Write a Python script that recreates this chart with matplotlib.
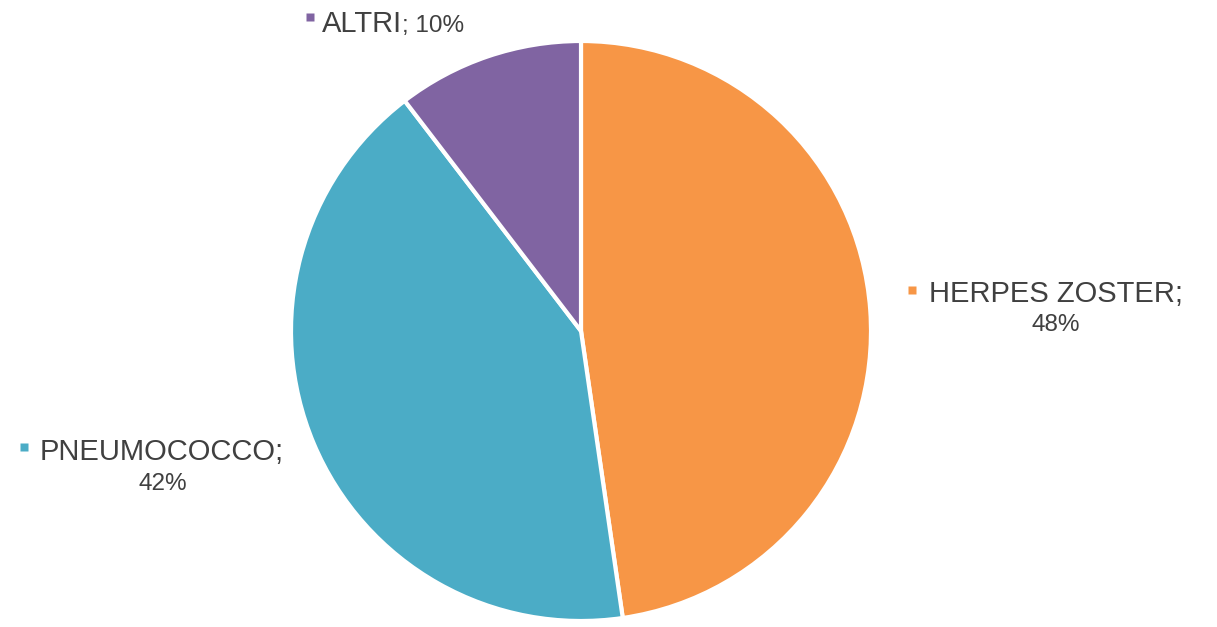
import matplotlib.pyplot as plt

plt.rcParams['font.family'] = ['Liberation Sans', 'DejaVu Sans']

labels = ["HERPES ZOSTER", "PNEUMOCOCCO", "ALTRI"]
values = [47.7, 41.9, 10.4]
colors = ['#F79646', '#4BACC6', '#8064A2']
text_color = '#404040'

W, H = 1217, 627
fig = plt.figure(figsize=(W / 100, H / 100), dpi=100)

# pie axes, y up
pax = fig.add_axes([0, 0, 1, 1])
pax.pie(values, colors=colors, startangle=90, counterclock=False,
        center=(581, H - 331), radius=290, frame=True,
        wedgeprops=dict(edgecolor='white', linewidth=3))
pax.set_xlim(0, W)
pax.set_ylim(0, H)
pax.axis('off')

# label axes, pixel coords from the top
ax = fig.add_axes([0, 0, 1, 1])
ax.set_xlim(0, W)
ax.set_ylim(H, 0)
ax.axis('off')

big = 21
small = 17.5
ms = 5.5

# HERPES ZOSTER
ax.plot(912, 290, marker='s', ms=ms, color=colors[0], mec='none')
ax.text(929, 302, labels[0] + ";", fontsize=big, color=text_color, ha='left', va='baseline')
ax.text(1056, 331, f"{round(values[0])}%", fontsize=small, color=text_color, ha='center', va='baseline')

# PNEUMOCOCCO
ax.plot(24, 447, marker='s', ms=ms, color=colors[1], mec='none')
ax.text(40, 460, labels[1] + ";", fontsize=big, color=text_color, ha='left', va='baseline')
ax.text(163, 490, f"{round(values[1])}%", fontsize=small, color=text_color, ha='center', va='baseline')

# ALTRI
ax.plot(310, 17, marker='s', ms=ms, color=colors[2], mec='none')
t = ax.text(322, 32, labels[2], fontsize=big, color=text_color, ha='left', va='baseline')
fig.canvas.draw()
bb = t.get_window_extent()
ax.text(bb.x1, H - 32, f"; {round(values[2])}%", fontsize=small, color=text_color,
        ha='left', va='baseline', transform=None)

fig.savefig("out.png", dpi=100, facecolor='white')
